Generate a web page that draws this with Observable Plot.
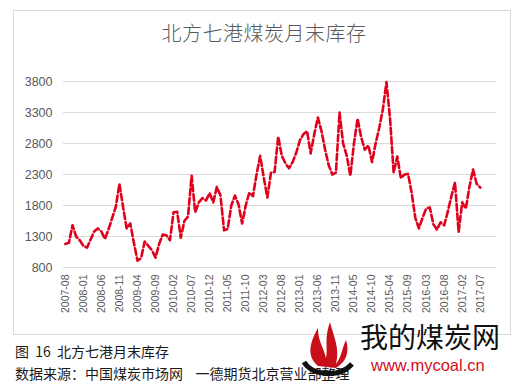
<!DOCTYPE html>
<html>
<head>
<meta charset="utf-8">
<script src="https://cdn.jsdelivr.net/npm/d3@7"></script>
<script src="https://cdn.jsdelivr.net/npm/@observablehq/plot@0.6"></script>
<style>
  html, body { margin: 0; padding: 0; background: #fff; }
  body { width: 515px; height: 386px; position: relative; overflow: hidden; font-family: "Noto Sans CJK SC", sans-serif; }
  #frame { position: absolute; left: 13px; top: 10px; width: 498px; height: 325px; border: 1px solid #d9d9d9; box-sizing: border-box; }
  #title { position: absolute; left: 0; top: 18px; width: 528px; text-align: center; font-size: 20px; color: #595959; font-family: "Noto Sans CJK SC", sans-serif; font-weight: 300; letter-spacing: 0.5px; }
  #chart { position: absolute; left: 0; top: 0; }
  .cap { position: absolute; left: 15px; font-size: 14px; color: #1a1a1a; font-family: "Noto Sans CJK SC", sans-serif; white-space: pre; }
  #wm1 { position: absolute; left: 360px; top: 322px; height: 28px; font-size: 28px; color: #111; font-family: "Noto Sans CJK SC", sans-serif; line-height: 28px; }
  #wm2 { position: absolute; left: 371px; top: 357px; height: 17px; font-size: 16.5px; color: #d0101a; font-family: "Liberation Sans", Arial, sans-serif; line-height: 17px; }
  #logo { position: absolute; left: 296px; top: 318px; }
</style>
</head>
<body>
<div id="frame"></div>
<div id="chart"></div>
<div id="title">北方七港煤炭月末库存</div>
<div class="cap" style="top:341px">图  16  北方七港月末库存</div>
<div class="cap" style="top:363px">数据来源：中国煤炭市场网    一德期货北京营业部整理</div>
<svg id="logo" width="70" height="62" viewBox="0 0 70 62">
  <path d="M8 44 C 16 58, 44 60, 56 46" fill="none" stroke="#111" stroke-width="5"/>
  <path d="M22 48 C 10 38, 14 24, 22 10 C 22 24, 28 30, 30 40 C 32 30, 28 20, 34 4 C 38 20, 44 30, 40 46 C 46 38, 46 30, 50 22 C 54 34, 50 44, 40 50 Z" fill="#c8101a"/>
</svg>
<div id="wm1">我的煤炭网</div>
<div id="wm2">www.mycoal.cn</div>
<script>
// Tick labels (every 5th category)
const tickLabels = ["2007-08","2008-01","2008-06","2008-11","2009-04","2009-09","2010-02","2010-07","2010-12","2011-05","2011-10","2012-03","2012-08","2013-01","2013-06","2013-11","2014-05","2014-10","2015-04","2015-09","2016-03","2016-08","2017-02","2017-07"];
// Month-end stock (10k t), one value per month category, 2007-08 .. 2017-07
const stock = [
  1180,1200,1480,1300,1240,1150,1120,1250,1380,1430,
  1380,1260,1420,1600,1780,2150,1780,1430,1510,1200,
  910,950,1220,1150,1080,960,1180,1330,1320,1240,
  1690,1700,1280,1550,1620,2280,1690,1850,1920,1880,
  2000,1850,2100,1960,1400,1420,1800,1960,1820,1510,
  1800,2010,1950,2300,2600,2250,1930,2330,2340,2910,
  2600,2480,2400,2500,2650,2850,2950,3000,2640,2950,
  3220,3000,2700,2450,2300,2330,3300,2800,2600,2280,
  2800,3200,2900,2700,2770,2500,2800,3050,3350,3790,
  3200,2330,2590,2240,2300,2310,2000,1600,1430,1600,
  1750,1770,1500,1410,1530,1480,1700,1950,2170,1370,
  1850,1750,2100,2380,2150,2090
];
const yTicks = [800,1300,1800,2300,2800,3300,3800];
const nSlots = 120;

const data = stock.map((v, i) => ({i, v}));
const tickIdx = tickLabels.map((_, k) => k * 5);

const chart = Plot.plot({
  width: 515,
  height: 336,
  marginLeft: 63,
  marginRight: 19,
  marginTop: 81,
  marginBottom: 69,
  style: {fontFamily: "'Liberation Sans', Arial, sans-serif", color: "#595959", background: "transparent"},
  x: {domain: [-0.5, nSlots - 0.5]},
  y: {domain: [800, 3800]},
  marks: [
    Plot.gridY(yTicks, {stroke: "#d9d9d9", strokeOpacity: 1, strokeWidth: 1}),
    Plot.axisY(yTicks, {tickSize: 0, tickPadding: 11, fontSize: 12.5, label: null, tickFormat: d => String(d)}),
    Plot.axisX(tickIdx, {tickSize: 0, tickPadding: 7, tickRotate: -90, fontSize: 10.5, label: null,
      tickFormat: d => tickLabels[d / 5]}),
    Plot.lineY(data, {x: "i", y: "v", stroke: "#e0001b", strokeWidth: 2.6, strokeDasharray: "6.5,3", curve: "linear"})
  ]
});
document.getElementById("chart").appendChild(chart);
</script>
</body>
</html>
